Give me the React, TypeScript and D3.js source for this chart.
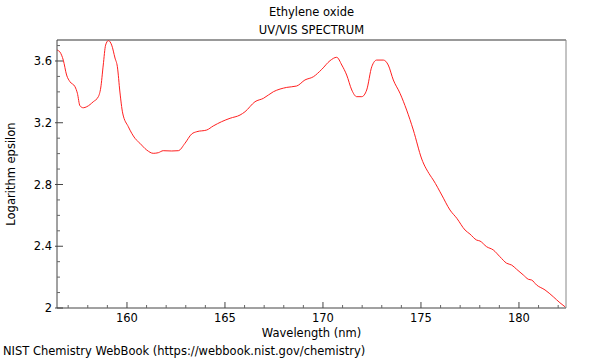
import { useEffect, useRef } from 'react'
import * as d3 from 'd3'

// Ethylene oxide UV/VIS spectrum
const wavelength = [
  156.43, 156.58, 156.75, 156.92, 157.09, 157.35, 157.47, 157.6, 157.77, 157.95,
  158.28, 158.54, 158.66, 158.79, 158.91, 159.05, 159.22, 159.39, 159.51, 159.64,
  159.78, 160.07, 160.41, 160.66, 161.01, 161.34, 161.6, 161.85, 162.28, 162.62,
  162.96, 163.3, 163.56, 164.07, 164.4, 164.83, 165.26, 165.77, 166.02, 166.53,
  166.96, 167.47, 168.15, 168.66, 169.08, 169.51, 169.94, 170.36, 170.7, 170.96,
  171.21, 171.47, 171.72, 171.98, 172.23, 172.49, 172.74, 173.08, 173.33, 173.59,
  173.93, 174.27, 174.61, 175.04, 175.46, 175.63, 176.06, 176.48, 176.83, 177.25,
  177.5, 177.84, 178.01, 178.35, 178.69, 179.03, 179.37, 179.63, 179.88, 180.22,
  180.48, 180.65, 180.9, 181.33, 181.75, 182.09, 182.35,
]
const logEpsilon = [
  3.671, 3.658, 3.606, 3.509, 3.466, 3.433, 3.391, 3.31, 3.297, 3.304,
  3.336, 3.369, 3.425, 3.574, 3.703, 3.732, 3.703, 3.619, 3.563, 3.399,
  3.263, 3.174, 3.099, 3.067, 3.023, 3.002, 3.006, 3.019, 3.017, 3.019,
  3.067, 3.127, 3.142, 3.153, 3.179, 3.207, 3.229, 3.25, 3.271, 3.336,
  3.358, 3.401, 3.429, 3.438, 3.477, 3.498, 3.546, 3.602, 3.624, 3.574,
  3.509, 3.412, 3.369, 3.369, 3.412, 3.563, 3.606, 3.606, 3.574, 3.477,
  3.391, 3.282, 3.153, 2.965, 2.861, 2.829, 2.732, 2.635, 2.581, 2.505,
  2.479, 2.44, 2.434, 2.397, 2.376, 2.332, 2.29, 2.278, 2.251, 2.214,
  2.186, 2.181, 2.149, 2.117, 2.073, 2.034, 2.008,
]
const xTicks = [160, 165, 170, 175, 180]
const yTicks = [2, 2.4, 2.8, 3.2, 3.6]

const W = 600
const H = 360
const margin = { top: 40, right: 34, bottom: 52, left: 57 }
const FONT = '"DejaVu Sans", sans-serif'
const FS = 11.5

export default function App() {
  const svgRef = useRef<SVGSVGElement>(null)

  useEffect(() => {
    if (!svgRef.current) return
    const svg = d3.select(svgRef.current)
    svg.selectAll('*').remove()

    const iw = W - margin.left - margin.right
    const ih = H - margin.top - margin.bottom

    const x = d3.scaleLinear().domain([156.43, 182.4]).range([0, iw])
    const y = d3.scaleLinear().domain([2, 3.736]).range([ih, 0])

    const g = svg.append('g').attr('transform', `translate(${margin.left},${margin.top})`)

    // frame: top and right lighter
    g.append('line').attr('x1', 0).attr('x2', iw).attr('y1', 0).attr('y2', 0)
      .attr('stroke', '#999').attr('stroke-width', 2)
    g.append('line').attr('x1', iw).attr('x2', iw).attr('y1', 0).attr('y2', ih)
      .attr('stroke', '#888').attr('stroke-width', 1)

    // curve
    const data = wavelength.map((w, i) => ({ w, e: logEpsilon[i] }))
    const line = d3.line<{ w: number; e: number }>()
      .x(d => x(d.w))
      .y(d => y(d.e))
      .curve(d3.curveMonotoneX)
    g.append('path')
      .datum(data)
      .attr('fill', 'none')
      .attr('stroke', '#ff2020')
      .attr('stroke-width', 1)
      .attr('d', line)

    // x axis, ticks point inward
    const xMinor = d3.range(157, 183, 1).filter(v => !xTicks.includes(v))
    const xa = g.append('g').attr('transform', `translate(0,${ih})`)
    xa.append('line').attr('x1', 0).attr('x2', iw).attr('stroke', '#444')
    xTicks.forEach(v => {
      xa.append('line').attr('x1', x(v)).attr('x2', x(v)).attr('y1', 0).attr('y2', -6).attr('stroke', '#444')
      xa.append('text').attr('x', x(v)).attr('y', 14).attr('text-anchor', 'middle')
        .attr('font-family', FONT).attr('font-size', FS).attr('fill', '#000').text(v)
    })
    xMinor.forEach(v => {
      xa.append('line').attr('x1', x(v)).attr('x2', x(v)).attr('y1', 0).attr('y2', -3).attr('stroke', '#666')
    })

    // y axis
    const yMinor = d3.range(2.1, 3.75, 0.1).filter(v => !yTicks.some(t => Math.abs(t - v) < 1e-6))
    const ya = g.append('g')
    ya.append('line').attr('y1', 0).attr('y2', ih).attr('stroke', '#444')
    yTicks.forEach(v => {
      ya.append('line').attr('y1', y(v)).attr('y2', y(v)).attr('x1', -2).attr('x2', 6).attr('stroke', '#444')
      ya.append('text').attr('x', -5).attr('y', y(v)).attr('dy', '0.35em').attr('text-anchor', 'end')
        .attr('font-family', FONT).attr('font-size', FS).attr('fill', '#000').text(v)
    })
    yMinor.forEach(v => {
      ya.append('line').attr('y1', y(v)).attr('y2', y(v)).attr('x1', 0).attr('x2', 3).attr('stroke', '#666')
    })

    // titles
    const cx = iw / 2
    g.append('text').attr('x', cx).attr('y', -24).attr('text-anchor', 'middle')
      .attr('font-family', FONT).attr('font-size', FS).text('Ethylene oxide')
    g.append('text').attr('x', cx).attr('y', -6).attr('text-anchor', 'middle')
      .attr('font-family', FONT).attr('font-size', FS).text('UV/VIS SPECTRUM')
    g.append('text').attr('x', cx).attr('y', ih + 29).attr('text-anchor', 'middle')
      .attr('font-family', FONT).attr('font-size', FS).text('Wavelength (nm)')
    g.append('text').attr('transform', 'rotate(-90)')
      .attr('x', -ih / 2).attr('y', -42).attr('text-anchor', 'middle')
      .attr('font-family', FONT).attr('font-size', FS).text('Logarithm epsilon')

    svg.append('text').attr('x', 3).attr('y', 355)
      .attr('font-family', FONT).attr('font-size', FS).text('NIST Chemistry WebBook (https://webbook.nist.gov/chemistry)')
  }, [])

  return (
    <svg
      ref={svgRef}
      width={W}
      height={H}
      style={{ position: 'absolute', left: 0, top: 0, background: '#fff' }}
    />
  )
}
